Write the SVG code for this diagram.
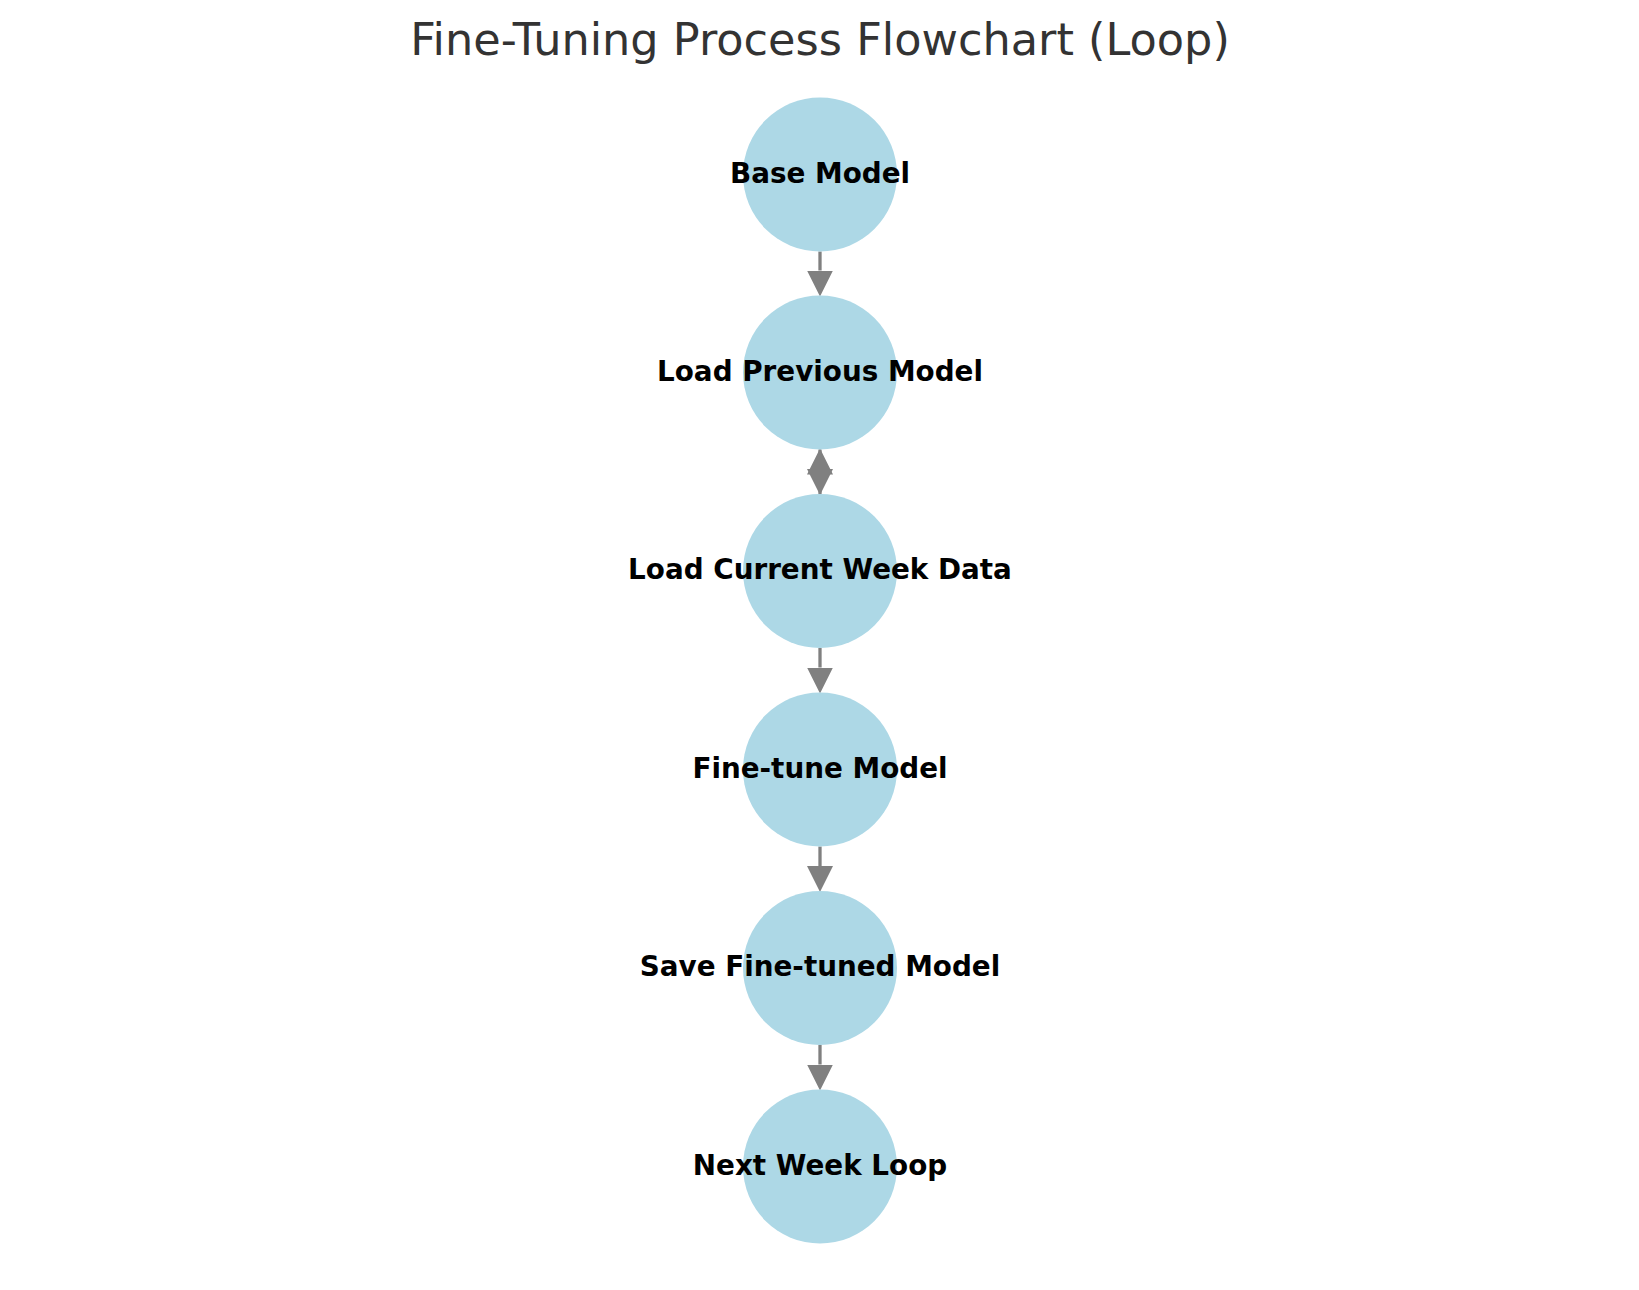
<svg xmlns="http://www.w3.org/2000/svg" width="1639" height="1290" viewBox="0 0 1639 1290">
<style>
.node{fill:#ADD8E6}
.lbl{font-family:"DejaVu Sans",sans-serif;font-weight:bold;font-size:27.8px;fill:#000;text-anchor:middle}
.edge{stroke:#808080;stroke-width:3.3;fill:none;marker-end:url(#ah)}
.title{font-family:"DejaVu Sans",sans-serif;font-size:44.6px;fill:#333333;text-anchor:middle}
</style>
<defs>
<marker id="ah" markerUnits="userSpaceOnUse" markerWidth="26" markerHeight="26" viewBox="0 0 25 25" refX="0" refY="12.5" orient="auto">
<path d="M0,0 L25,12.5 L0,25 Z" fill="#808080"/>
</marker>
</defs>
<rect width="1639" height="1290" fill="#fff"/>
<text class="title" x="820" y="55">Fine-Tuning Process Flowchart (Loop)</text>
<g id="connectors">
<line class="edge" x1="820" y1="251.5" x2="820" y2="270.5"/>
<line class="edge" x1="820" y1="449.5" x2="820" y2="469"/>
<line class="edge" x1="820" y1="494" x2="820" y2="474.5"/>
<line class="edge" x1="820" y1="648" x2="820" y2="667.5"/>
<line class="edge" x1="820" y1="846.5" x2="820" y2="866"/>
<line class="edge" x1="820" y1="1045" x2="820" y2="1064.5"/>
</g>
<g id="node-base"><circle class="node" cx="820" cy="174.5" r="77"/><text class="lbl" x="820" y="182.8">Base Model</text></g>
<g id="node-loadprev"><circle class="node" cx="820" cy="372.5" r="77"/><text class="lbl" x="820" y="380.8">Load Previous Model</text></g>
<g id="node-loadcur"><circle class="node" cx="820" cy="571" r="77"/><text class="lbl" x="820" y="579.3">Load Current Week Data</text></g>
<g id="node-finetune"><circle class="node" cx="820" cy="769.5" r="77"/><text class="lbl" x="820" y="777.8">Fine-tune Model</text></g>
<g id="node-save"><circle class="node" cx="820" cy="968" r="77"/><text class="lbl" x="820" y="976.3">Save Fine-tuned Model</text></g>
<g id="node-next"><circle class="node" cx="820" cy="1166.5" r="77"/><text class="lbl" x="820" y="1174.8">Next Week Loop</text></g>
</svg>
